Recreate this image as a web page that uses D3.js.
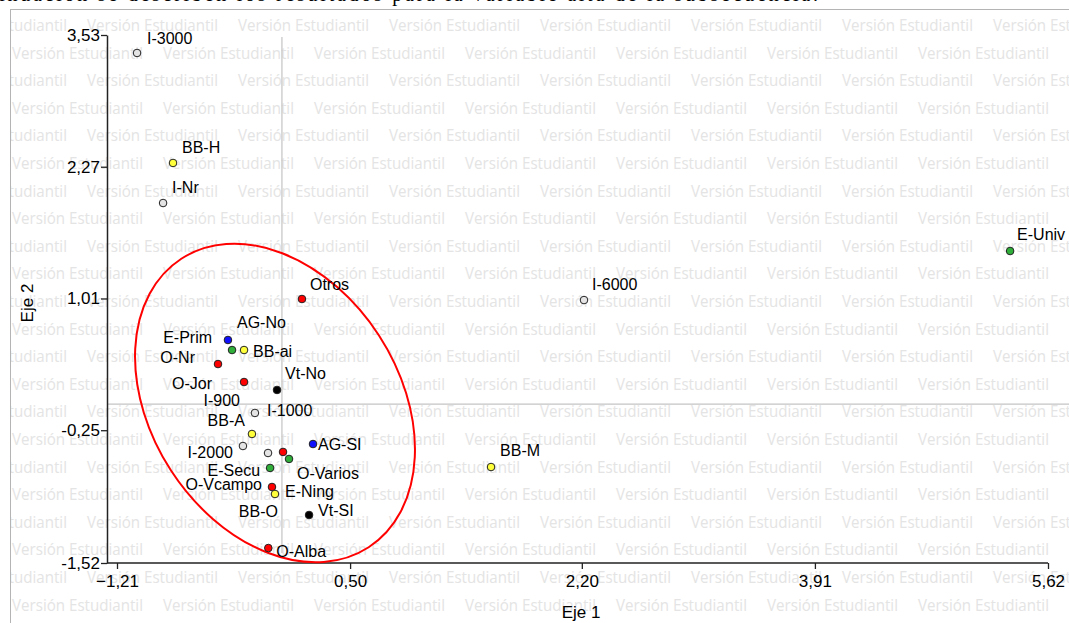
<!DOCTYPE html>
<html>
<head>
<meta charset="utf-8">
<script src="https://cdn.jsdelivr.net/npm/d3@7"></script>
<style>
  html, body { margin: 0; padding: 0; background: #fff; }
  svg { display: block; }
</style>
</head>
<body>
<script>
// Puntos del plano factorial (Eje 1 × Eje 2)
const puntos = ["I-3000", "BB-H", "I-Nr", "E-Univ", "Otros", "I-6000", "AG-No", "E-Prim", "BB-ai",
  "O-Nr", "O-Jor", "Vt-No", "I-900", "I-1000", "BB-A", "I-2000", "O-Varios", "E-Ning", "AG-SI",
  "E-Secu", "O-Vcampo", "BB-O", "Vt-SI", "O-Alba", "BB-M"];
const eje1 = [-1.063, -0.799, -0.872, 5.342, 0.147, 2.216, -0.396, -0.366, -0.278,
  -0.469, -0.278, -0.036, -0.198, -0.102, -0.220, -0.286, 0.008, 0.052, 0.228,
  -0.087, -0.073, -0.051, 0.199, -0.100, 1.534];
const eje2 = [3.358, 2.306, 1.923, 1.464, 1.005, 0.995, 0.613, 0.517, 0.517,
  0.383, 0.211, 0.135, -0.085, -0.468, -0.286, -0.401, -0.458, -0.525, -0.382,
  -0.611, -0.793, -0.860, -1.061, -1.377, -0.602];
const grupos = ["I", "BB", "I", "E", "O", "I", "AG", "E", "BB",
  "O", "O", "Vt", "I", "I", "BB", "I", "O", "E", "AG",
  "E", "O", "BB", "Vt", "O", "BB"];

const ticksX = [-1.21, 0.50, 2.20, 3.91, 5.62];
const ticksY = [-1.52, -0.25, 1.01, 2.27, 3.53];
const tituloX = "Eje 1";
const tituloY = "Eje 2";
const marcaAgua = "Versión Estudiantil";

// Colores por grupo de variables
const color = d3.scaleOrdinal()
  .domain(["I", "BB", "E", "O", "AG", "Vt"])
  .range(["#e4e4e4", "#ffff3c", "#2fae3a", "#ff0000", "#1010ff", "#000000"]);

// Ubicación de cada etiqueta respecto de su punto: [dx, dy, anclaje]
const ubicEtiqueta = {
  "I-3000": [10, -9, "start"], "BB-H": [9, -10, "start"], "I-Nr": [9, -10, "start"],
  "E-Univ": [7, -11, "start"], "Otros": [8, -9, "start"], "I-6000": [8, -10, "start"],
  "AG-No": [9, -12, "start"], "E-Prim": [-20, -7, "end"], "BB-ai": [9, 7, "start"],
  "O-Nr": [-23, -1, "end"], "O-Jor": [-32, 7, "end"], "Vt-No": [8, -11, "start"],
  "I-900": [-15, -7, "end"], "I-1000": [-1, -37, "start"], "BB-A": [-7, -8, "end"],
  "I-2000": [-10, 12, "end"], "O-Varios": [14, 27, "start"], "E-Ning": [-4, 38, "start"],
  "AG-SI": [5, 6, "start"], "E-Secu": [-10, 8, "end"], "O-Vcampo": [-10, 3, "end"],
  "BB-O": [3, 23, "end"], "Vt-SI": [9, 1, "start"], "O-Alba": [8, 9, "start"],
  "BB-M": [9, -11, "start"]
};

const W = 1069, H = 623;
const svg = d3.select("body").append("svg").attr("width", W).attr("height", H);

// Escalas del gráfico
const x = d3.scaleLinear().domain([-1.21, 5.62]).range([117, 1048]);
const y = d3.scaleLinear().domain([-1.52, 3.53]).range([563, 35]);
const ejeIzq = 107;

// Línea de texto del documento, cortada por el borde superior
svg.append("text")
  .attr("x", -70).attr("y", 0.5)
  .attr("textLength", 888)
  .attr("lengthAdjust", "spacing")
  .attr("font-family", "Liberation Serif, Times New Roman, serif")
  .attr("font-size", 20)
  .attr("fill", "#000")
  .text("A continuación se describen los resultados para la variable alta de la subsecuencia.");

// Marco
svg.append("defs").append("clipPath").attr("id", "marco")
  .append("rect").attr("x", 11).attr("y", 10).attr("width", W).attr("height", H);

const fondo = svg.append("g").attr("clip-path", "url(#marco)");
svg.append("rect")
  .attr("x", 10.5).attr("y", 9.5).attr("width", W).attr("height", H + 20)
  .attr("fill", "none").attr("stroke", "#b4b4b4").attr("stroke-width", 1);

// Marca de agua en filas alternadas
const paso = 27.6, periodo = 151;
d3.range(22).forEach(i => {
  const inicio = i % 2 === 0 ? -64 : 12;
  const base = 31 + i * paso;
  d3.range(inicio, W + periodo, periodo).forEach(x0 => {
    fondo.append("text")
      .attr("x", x0).attr("y", base)
      .attr("font-family", "Open Sans, DejaVu Sans, sans-serif")
      .attr("font-size", 17)
      .attr("textLength", 131)
      .attr("lengthAdjust", "spacingAndGlyphs")
      .attr("fill", "#e4e4e4")
      .text(marcaAgua);
  });
});

// Líneas de referencia en cero
svg.append("line")
  .attr("x1", x(0)).attr("x2", x(0))
  .attr("y1", y(3.53) + 2).attr("y2", 553)
  .attr("stroke", "#c4c4c4").attr("stroke-width", 1.2);
svg.append("line")
  .attr("x1", ejeIzq).attr("x2", W)
  .attr("y1", y(0)).attr("y2", y(0))
  .attr("stroke", "#c4c4c4").attr("stroke-width", 1.2);

// Ejes
const fuente = "Liberation Sans, Arial, sans-serif";
const gx = svg.append("g").attr("transform", `translate(0,${y(-1.52)})`)
  .call(d3.axisBottom(x).tickValues(ticksX).tickSize(6).tickSizeOuter(0)
    .tickFormat(d => d3.format(".2f")(d).replace(".", ",")));
gx.select(".domain").attr("d", `M${ejeIzq},0H${x(5.62)}`);
const gy = svg.append("g").attr("transform", `translate(${ejeIzq},0)`)
  .call(d3.axisLeft(y).tickValues(ticksY).tickSize(6).tickSizeOuter(0)
    .tickFormat(d => d3.format(".2f")(d).replace(".", ",").replace("−", "-")));
[gx, gy].forEach(g => {
  g.select(".domain").attr("stroke", "#222").attr("stroke-width", 1.5);
  g.selectAll(".tick line").attr("stroke", "#222").attr("stroke-width", 1.3);
  g.selectAll(".tick text").attr("font-family", fuente).attr("font-size", 17).attr("fill", "#000");
});
gx.selectAll(".tick text").attr("y", 12);
gy.selectAll(".tick text").attr("x", -7);

svg.append("text")
  .attr("x", 581).attr("y", 618)
  .attr("text-anchor", "middle")
  .attr("font-family", fuente).attr("font-size", 17)
  .text(tituloX);
svg.append("text")
  .attr("transform", "translate(33,303) rotate(-90)")
  .attr("text-anchor", "middle")
  .attr("font-family", fuente).attr("font-size", 17)
  .text(tituloY);

// Elipse que agrupa las categorías cercanas al origen
svg.append("ellipse")
  .attr("cx", 275).attr("cy", 403).attr("rx", 172).attr("ry", 124)
  .attr("transform", "rotate(57 275 403)")
  .attr("fill", "none").attr("stroke", "#ff0000").attr("stroke-width", 2);

// Puntos y etiquetas
const datos = puntos.map((p, i) => ({ nombre: p, e1: eje1[i], e2: eje2[i], grupo: grupos[i] }));

svg.append("g").selectAll("circle").data(datos).join("circle")
  .attr("cx", d => x(d.e1)).attr("cy", d => y(d.e2))
  .attr("r", 3.8)
  .attr("fill", d => color(d.grupo))
  .attr("stroke", "#222").attr("stroke-width", 1);

svg.append("g").selectAll("text").data(datos).join("text")
  .attr("x", d => x(d.e1) + ubicEtiqueta[d.nombre][0])
  .attr("y", d => y(d.e2) + ubicEtiqueta[d.nombre][1])
  .attr("text-anchor", d => ubicEtiqueta[d.nombre][2])
  .attr("font-family", fuente).attr("font-size", 16)
  .attr("fill", "#000")
  .text(d => d.nombre);
</script>
</body>
</html>
